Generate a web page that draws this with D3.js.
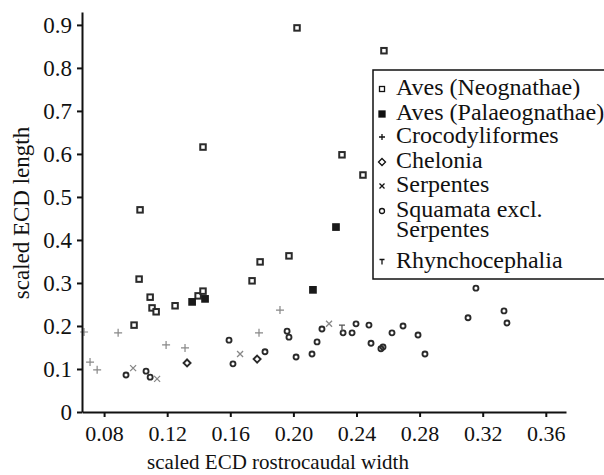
<!DOCTYPE html>
<html lang="en">
	<head>
		<meta charset="utf-8">
		<title>scaled ECD length vs width</title>
		<script type="text/javascript" src="https://cdn.jsdelivr.net/npm/d3@7"></script>
		<style type="text/css">
			body { margin: 0; background: #fff; }
			text { font-family: "Liberation Serif", "Times New Roman", serif; fill: #111; }
		</style>
	</head>
	<body>
		<script type="text/javascript">
			//Size
			var w = 604;
			var h = 475;

			//Data: [rostrocaudal width, length]
			var neognathae = [
				[0.2023, 0.893], [0.2574, 0.840], [0.1427, 0.616], [0.2308, 0.598],
				[0.2441, 0.551], [0.1028, 0.470], [0.1972, 0.363], [0.1789, 0.349],
				[0.1738, 0.305], [0.1022, 0.309], [0.1396, 0.270], [0.1427, 0.281],
				[0.1092, 0.267], [0.1104, 0.242], [0.1130, 0.233], [0.0990, 0.202],
				[0.1250, 0.247]
			];
			var palaeognathae = [
				[0.1358, 0.256], [0.1440, 0.263], [0.2124, 0.284], [0.2270, 0.430]
			];
			var crocodyliformes = [
				[0.0673, 0.186], [0.0711, 0.116], [0.0756, 0.098], [0.0889, 0.184],
				[0.1193, 0.156], [0.1313, 0.149], [0.1782, 0.184], [0.1915, 0.237]
			];
			var chelonia = [
				[0.1326, 0.114], [0.1770, 0.123]
			];
			var serpentes = [
				[0.0984, 0.102], [0.1136, 0.077], [0.1662, 0.135], [0.2226, 0.205]
			];
			var squamata = [
				[0.0939, 0.086], [0.1066, 0.095], [0.1092, 0.081], [0.1592, 0.167],
				[0.1617, 0.112], [0.1820, 0.140], [0.1960, 0.188], [0.1972, 0.174],
				[0.2017, 0.128], [0.2118, 0.135], [0.2150, 0.163], [0.2181, 0.193],
				[0.2315, 0.184], [0.2372, 0.184], [0.2397, 0.205], [0.2479, 0.202],
				[0.2492, 0.160], [0.2555, 0.147], [0.2568, 0.151], [0.2625, 0.184],
				[0.2695, 0.200], [0.2790, 0.179], [0.2834, 0.135], [0.3107, 0.219],
				[0.3157, 0.288], [0.3335, 0.235], [0.3354, 0.207]
			];
			var rhynchocephalia = [
				[0.2308, 0.195]
			];

			var xTicks = [0.08, 0.12, 0.16, 0.20, 0.24, 0.28, 0.32, 0.36];
			var yTicks = [0, 0.1, 0.2, 0.3, 0.4, 0.5, 0.6, 0.7, 0.8, 0.9];

			var series = [
				{ name: ["Aves (Neognathae)"], data: neognathae, type: "sq" },
				{ name: ["Aves (Palaeognathae)"], data: palaeognathae, type: "sqf" },
				{ name: ["Crocodyliformes"], data: crocodyliformes, type: "plus" },
				{ name: ["Chelonia"], data: chelonia, type: "dia" },
				{ name: ["Serpentes"], data: serpentes, type: "x" },
				{ name: ["Squamata excl.", "Serpentes"], data: squamata, type: "circ" },
				{ name: ["Rhynchocephalia"], data: rhynchocephalia, type: "T" }
			];

			var plotL = 82, plotT = 12, plotR = 566, plotB = 412;

			var x = d3.scaleLinear().domain([0.066, 0.3728]).range([plotL, plotR]);
			var y = d3.scaleLinear().domain([0, 0.93]).range([plotB, plotT]);

			var svg = d3.select("body")
						.append("svg")
						.attr("width", w)
						.attr("height", h);

			//Marker drawing
			function marker(g, type, cx, cy, s, color, sw) {
				var hs = s / 2;
				if (type == "sq" || type == "sqf") {
					g.append("rect")
					 .attr("x", cx - hs).attr("y", cy - hs)
					 .attr("width", s).attr("height", s)
					 .attr("fill", type == "sqf" ? color : "#fff")
					 .attr("stroke", color).attr("stroke-width", sw);
				} else if (type == "circ") {
					g.append("circle")
					 .attr("cx", cx).attr("cy", cy).attr("r", hs)
					 .attr("fill", "none")
					 .attr("stroke", color).attr("stroke-width", sw);
				} else {
					var p;
					if (type == "plus") {
						p = "M" + (cx - hs) + "," + cy + "H" + (cx + hs) + "M" + cx + "," + (cy - hs) + "V" + (cy + hs);
					} else if (type == "x") {
						p = "M" + (cx - hs) + "," + (cy - hs) + "L" + (cx + hs) + "," + (cy + hs) +
							"M" + (cx + hs) + "," + (cy - hs) + "L" + (cx - hs) + "," + (cy + hs);
					} else if (type == "dia") {
						p = "M" + cx + "," + (cy - hs) + "L" + (cx + hs) + "," + cy + "L" + cx + "," + (cy + hs) +
							"L" + (cx - hs) + "," + cy + "Z";
					} else {
						p = "M" + (cx - hs) + "," + (cy - hs) + "H" + (cx + hs) + "M" + cx + "," + (cy - hs) + "V" + (cy + hs);
					}
					g.append("path")
					 .attr("d", p)
					 .attr("fill", type == "dia" ? "#fff" : "none")
					 .attr("stroke", color).attr("stroke-width", sw);
				}
			}

			var plotSize = { sq: 5.5, sqf: 6, plus: 8, dia: 7, x: 6, circ: 5, T: 6 };
			var plotColor = { sq: "#2a2a2a", sqf: "#1a1a1a", plus: "#888", dia: "#2a2a2a", x: "#888", circ: "#2a2a2a", T: "#555" };
			var plotWidth = { sq: 2, sqf: 1.7, plus: 1.2, dia: 1.9, x: 1.3, circ: 1.9, T: 1.3 };

			var marks = svg.append("g");
			series.forEach(function(s) {
				s.data.forEach(function(d) {
					marker(marks, s.type, x(d[0]), y(d[1]), plotSize[s.type], plotColor[s.type], plotWidth[s.type]);
				});
			});

			//Axes
			svg.append("g")
			   .attr("transform", "translate(0," + plotB + ")")
			   .call(d3.axisBottom(x).tickValues(xTicks).tickFormat(d3.format(".2f")).tickSize(5).tickSizeOuter(0).tickPadding(8))
			   .call(function(g) {
			   		g.select(".domain").attr("stroke-width", 2).attr("stroke", "#111");
			   		g.selectAll(".tick line").attr("stroke-width", 2).attr("stroke", "#111");
			   		g.selectAll("text").attr("font-family", "Liberation Serif").attr("font-size", "22px").attr("fill", "#111");
			   });

			svg.append("g")
			   .attr("transform", "translate(" + plotL + ",0)")
			   .call(d3.axisLeft(y).tickValues(yTicks).tickFormat(function(d) { return d == 0 ? "0" : d3.format(".1f")(d); }).tickSize(5).tickSizeOuter(0).tickPadding(5))
			   .call(function(g) {
			   		g.select(".domain").attr("stroke-width", 2).attr("stroke", "#111");
			   		g.selectAll(".tick line").attr("stroke-width", 2).attr("stroke", "#111");
			   		g.selectAll("text").attr("font-family", "Liberation Serif").attr("font-size", "23px").attr("fill", "#111");
			   });

			//Axis titles
			svg.append("text")
			   .attr("x", 278)
			   .attr("y", 469)
			   .attr("text-anchor", "middle")
			   .attr("font-size", "21px")
			   .text("scaled ECD rostrocaudal width");

			svg.append("text")
			   .attr("transform", "translate(29,213) rotate(-90)")
			   .attr("text-anchor", "middle")
			   .attr("font-size", "23px")
			   .text("scaled ECD length");

			//Legend
			var legend = svg.append("g");
			legend.append("rect")
				  .attr("x", 373).attr("y", 70)
				  .attr("width", 240).attr("height", 209)
				  .attr("fill", "#fff")
				  .attr("stroke", "#111").attr("stroke-width", 1.5);

			var legendY = [89, 114, 137, 162, 186, 211, 262];
			var legSize = { sq: 5, sqf: 6, plus: 6, dia: 7, x: 5, circ: 5, T: 5 };
			series.forEach(function(s, i) {
				marker(legend, s.type, 382, legendY[i], legSize[s.type], "#111", 1.3);
				s.name.forEach(function(line, j) {
					legend.append("text")
						  .attr("x", 396)
						  .attr("y", legendY[i] + 6 + j * 20)
						  .attr("font-size", "24px")
						  .text(line);
				});
			});
		</script>
	</body>
</html>
